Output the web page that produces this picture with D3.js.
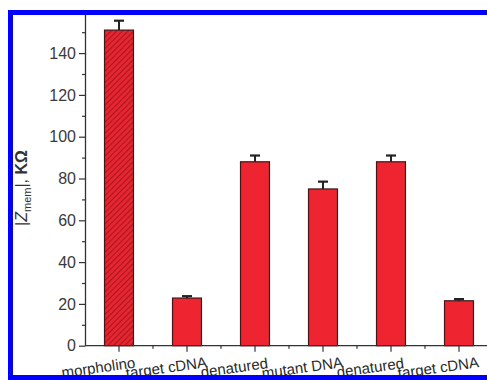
<!DOCTYPE html>
<html>
<head>
<meta charset="utf-8">
<script src="https://cdn.jsdelivr.net/npm/d3@7"></script>
<style>
  body { margin: 0; background: #fff; }
  svg { display: block; font-family: "Liberation Sans", Arial, sans-serif; }
</style>
</head>
<body>
<div id="chart"></div>
<script>
// data
var categories = ["morpholino", "target cDNA", "denatured", "mutant DNA", "denatured", "target cDNA"];
var values = [151, 22.8, 88, 75, 88, 21.5];
var errors = [4.5, 0.9, 3, 3.5, 3, 0.8];
var hatched = [true, false, false, false, false, false];
var yTicks = [0, 20, 40, 60, 80, 100, 120, 140];

var W = 487, H = 380;
var x0 = 85, y0 = 345.7;

var svg = d3.select("#chart").append("svg")
  .attr("width", W)
  .attr("height", H);

// diagonal hatch for the first bar
var pat = svg.append("defs").append("pattern")
  .attr("id", "hatch")
  .attr("patternUnits", "userSpaceOnUse")
  .attr("width", 4)
  .attr("height", 4)
  .attr("patternTransform", "rotate(45)");
pat.append("rect").attr("width", 4).attr("height", 4).attr("fill", "#e62530");
pat.append("line")
  .attr("x1", 0).attr("y1", 0).attr("x2", 0).attr("y2", 4)
  .attr("stroke", "#8a1016").attr("stroke-width", 1.4);

var x = d3.scaleBand()
  .domain(d3.range(categories.length))
  .range([x0, x0 + 68 * categories.length])
  .paddingInner(0.574)
  .paddingOuter(0.287);

var y = d3.scaleLinear()
  .domain([0, 160])
  .range([y0, y0 - 160 * 2.09]);

function cx(i) { return x(i) + x.bandwidth() / 2; }

// bars
svg.selectAll("rect.bar")
  .data(values)
  .enter().append("rect")
  .attr("class", "bar")
  .attr("x", function(d, i) { return x(i); })
  .attr("y", function(d) { return y(d); })
  .attr("width", x.bandwidth())
  .attr("height", function(d) { return y(0) - y(d); })
  .attr("fill", function(d, i) { return hatched[i] ? "url(#hatch)" : "#ee2430"; })
  .attr("stroke", "#3a1a1a")
  .attr("stroke-width", 1.2);

// error bars (upper half only)
var eb = svg.selectAll("g.err")
  .data(values)
  .enter().append("g")
  .attr("class", "err");
eb.append("line")
  .attr("x1", function(d, i) { return cx(i); })
  .attr("x2", function(d, i) { return cx(i); })
  .attr("y1", function(d) { return y(d); })
  .attr("y2", function(d, i) { return y(d + errors[i]); })
  .attr("stroke", "#222")
  .attr("stroke-width", 2);
eb.append("line")
  .attr("x1", function(d, i) { return cx(i) - 5; })
  .attr("x2", function(d, i) { return cx(i) + 5; })
  .attr("y1", function(d, i) { return y(d + errors[i]); })
  .attr("y2", function(d, i) { return y(d + errors[i]); })
  .attr("stroke", "#222")
  .attr("stroke-width", 2.2);

// y axis: major ticks with labels, minor ticks between
var yAxis = svg.append("g")
  .attr("transform", "translate(" + x0 + ",0)")
  .call(d3.axisLeft(y).tickValues(yTicks).tickSize(6).tickPadding(3).tickSizeOuter(0));
svg.append("g")
  .attr("transform", "translate(" + x0 + ",0)")
  .call(d3.axisLeft(y).tickValues(d3.range(10, 160, 20)).tickSize(3).tickFormat("").tickSizeOuter(0))
  .select(".domain").remove();
yAxis.selectAll("text").attr("font-size", 16).attr("fill", "#3a3a3a");

// x axis: ticks at bar centers and band boundaries
var xAxis = svg.append("g")
  .attr("transform", "translate(0," + y0 + ")");
xAxis.append("line")
  .attr("x1", x0).attr("x2", W)
  .attr("stroke", "#333").attr("stroke-width", 1.3);
xAxis.selectAll("line.maj")
  .data(categories)
  .enter().append("line")
  .attr("class", "maj")
  .attr("x1", function(d, i) { return cx(i); })
  .attr("x2", function(d, i) { return cx(i); })
  .attr("y1", 0).attr("y2", 6)
  .attr("stroke", "#333").attr("stroke-width", 1.2);
xAxis.selectAll("line.min")
  .data(categories)
  .enter().append("line")
  .attr("class", "min")
  .attr("x1", function(d, i) { return cx(i) + x.step() / 2; })
  .attr("x2", function(d, i) { return cx(i) + x.step() / 2; })
  .attr("y1", 0).attr("y2", 3)
  .attr("stroke", "#333").attr("stroke-width", 1.2);
xAxis.selectAll("text")
  .data(categories)
  .enter().append("text")
  .attr("transform", function(d, i) {
    return "translate(" + (cx(i) - 20) + ",27) rotate(-8)";
  })
  .attr("text-anchor", "middle")
  .attr("font-size", 15)
  .attr("fill", "#2a2a2a")
  .text(function(d) { return d; });

svg.selectAll(".domain").attr("stroke", "#333").attr("stroke-width", 1.3);
svg.selectAll(".tick line").attr("stroke", "#333").attr("stroke-width", 1.2);

// y axis title
var title = svg.append("text")
  .attr("transform", "translate(27,188) rotate(-90)")
  .attr("text-anchor", "middle")
  .attr("font-size", 16)
  .attr("fill", "#333");
title.append("tspan").text("|");
title.append("tspan").attr("font-style", "italic").text("Z");
title.append("tspan").attr("font-size", 11).attr("dy", 4).text("mem");
title.append("tspan").attr("dy", -4).text("|, ");
title.append("tspan").attr("font-weight", "bold").text("K\u03A9");

// blue frame
svg.append("rect")
  .attr("x", 10.5).attr("y", 12.5)
  .attr("width", W + 20).attr("height", 365)
  .attr("fill", "none")
  .attr("stroke", "#0000ff")
  .attr("stroke-width", 5);
</script>
</body>
</html>
